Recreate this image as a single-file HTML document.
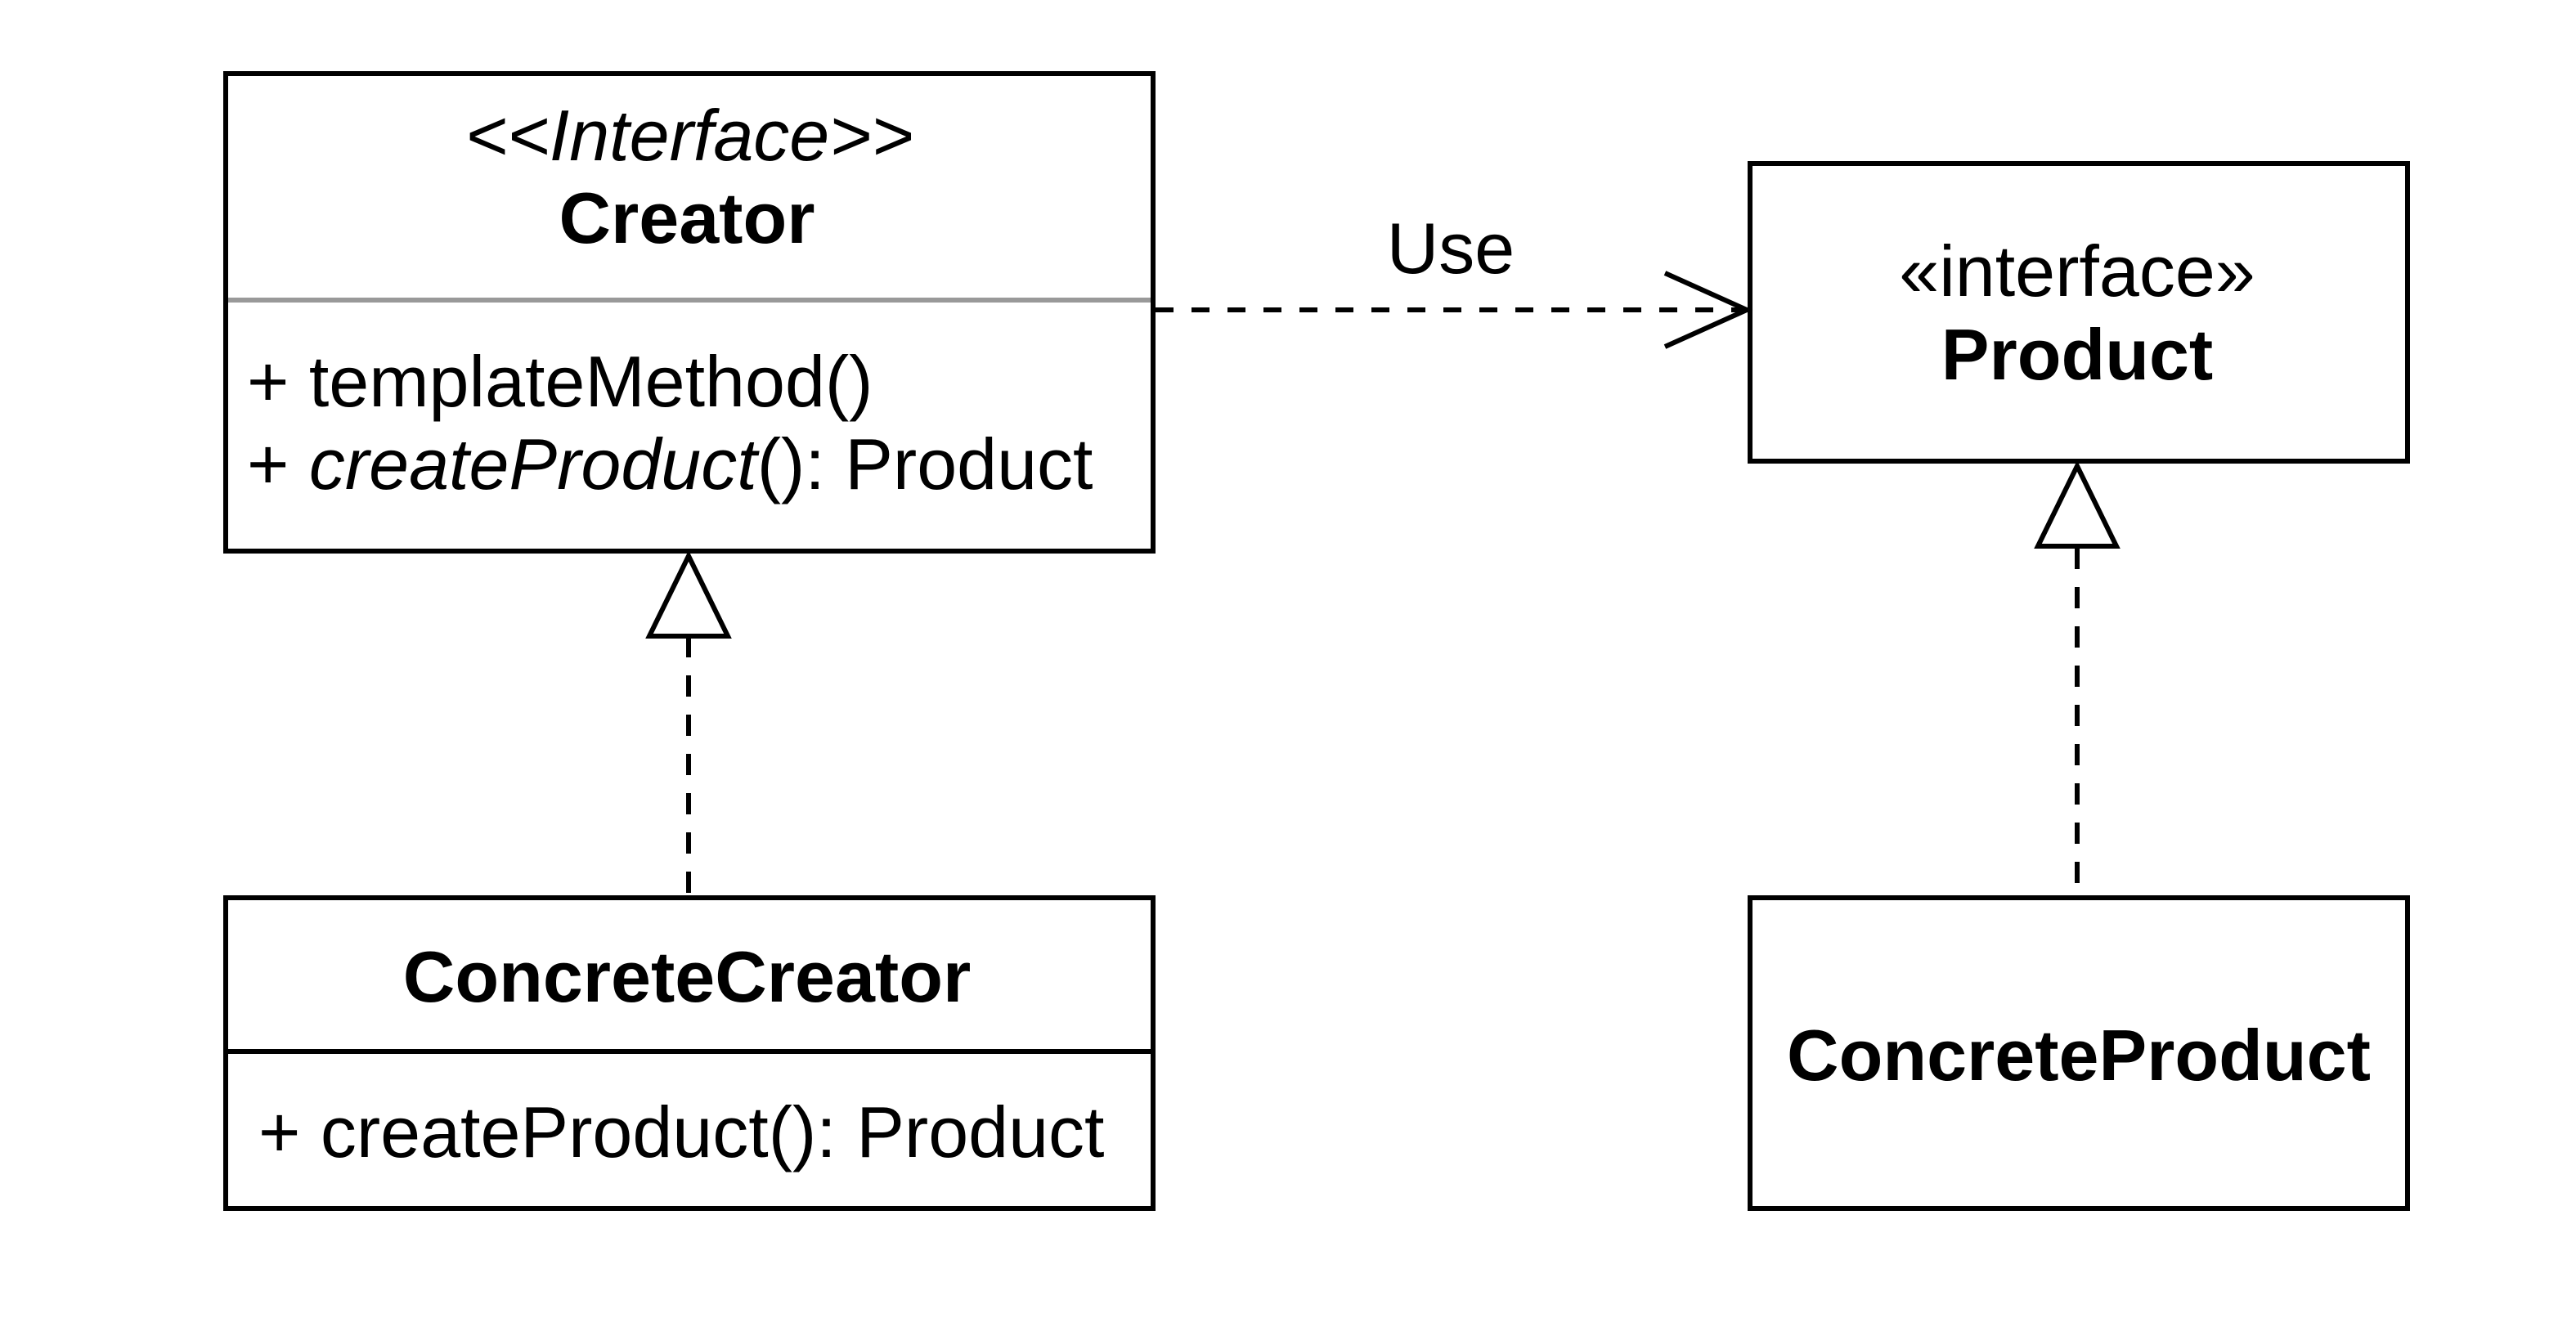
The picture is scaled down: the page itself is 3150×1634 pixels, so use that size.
<!DOCTYPE html>
<html><head><meta charset="utf-8"><style>
html,body{margin:0;padding:0;background:#fff;width:3150px;height:1634px;overflow:hidden}
svg{display:block}
text{font-family:"Liberation Sans",Arial,sans-serif;fill:#000}
</style></head><body>
<svg width="3150" height="1634" viewBox="0 0 3150 1634" xmlns="http://www.w3.org/2000/svg">
<rect width="3150" height="1634" fill="#fff"/>
<g fill="none" stroke="#000" stroke-width="6">
<rect x="276" y="90" width="1134" height="584"/>
<rect x="276" y="1098" width="1134" height="380"/>
<line x1="276" y1="1286" x2="1410" y2="1286"/>
<rect x="2140" y="200" width="804" height="364"/>
<rect x="2140" y="1098" width="804" height="380"/>
</g>
<line x1="279" y1="367" x2="1407" y2="367" stroke="#999" stroke-width="6"/>
<g stroke="#000" stroke-width="6" fill="none">
<line x1="1413" y1="379" x2="2134" y2="379" stroke-dasharray="22 22"/>
<polyline points="2036,334 2136,379 2036,424"/>
<line x1="842" y1="778" x2="842" y2="1096" stroke-dasharray="26 22"/>
<polygon points="842,680 794,778 890,778" fill="#fff"/>
<line x1="2540" y1="670" x2="2540" y2="1096" stroke-dasharray="26 22"/>
<polygon points="2540,570 2492,668 2588,668" fill="#fff"/>
</g>
<g font-size="88">
<text x="843" y="196" text-anchor="middle" font-style="italic">&lt;&lt;Interface&gt;&gt;</text>
<text x="840" y="297" text-anchor="middle" font-weight="bold">Creator</text>
<text x="302" y="497">+ templateMethod()</text>
<text x="302" y="598">+ <tspan font-style="italic">createProduct</tspan>(): Product</text>
<text x="1774" y="334" text-anchor="middle">Use</text>
<text x="2540" y="362" text-anchor="middle">«interface»</text>
<text x="2540" y="464" text-anchor="middle" font-weight="bold">Product</text>
<text x="840" y="1225" text-anchor="middle" font-weight="bold">ConcreteCreator</text>
<text x="316" y="1415">+ createProduct(): Product</text>
<text x="2542" y="1321" text-anchor="middle" font-weight="bold">ConcreteProduct</text>
</g>
</svg>
</body></html>
